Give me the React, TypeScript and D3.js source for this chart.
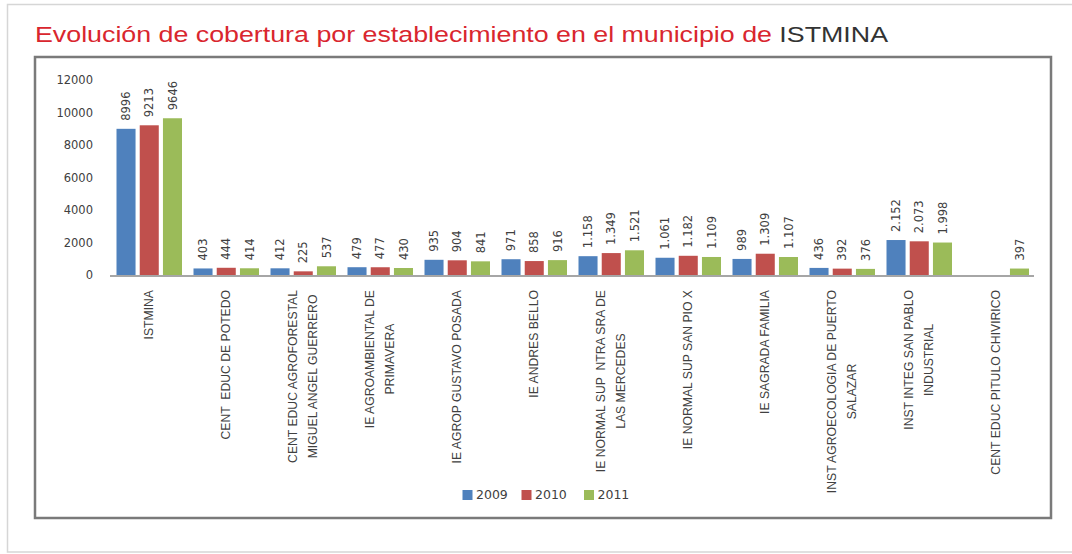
import React, { useEffect, useRef } from "react";
import * as d3 from "d3";

const categories: string[][] = [
  ["ISTMINA"],
  ["CENT  EDUC DE POTEDO"],
  ["CENT EDUC AGROFORESTAL", "MIGUEL ANGEL GUERRERO"],
  ["IE AGROAMBIENTAL DE", "PRIMAVERA"],
  ["IE AGROP GUSTAVO POSADA"],
  ["IE ANDRES BELLO"],
  ["IE NORMAL SUP  NTRA SRA DE", "LAS MERCEDES"],
  ["IE NORMAL SUP SAN PIO X"],
  ["IE SAGRADA FAMILIA"],
  ["INST AGROECOLOGIA DE PUERTO", "SALAZAR"],
  ["INST INTEG SAN PABLO", "INDUSTRIAL"],
  ["CENT EDUC PITULO CHIVIRICO"],
];

const series = ["2009", "2010", "2011"];
const colors = ["#4f81bd", "#c0504d", "#9bbb59"];

const values2009: (number | null)[] = [8996, 403, 412, 479, 935, 971, 1158, 1061, 989, 436, 2152, null];
const values2010: (number | null)[] = [9213, 444, 225, 477, 904, 858, 1349, 1182, 1309, 392, 2073, null];
const values2011: (number | null)[] = [9646, 414, 537, 430, 841, 916, 1521, 1109, 1107, 376, 1998, 397];

const labels2009 = ["8996", "403", "412", "479", "935", "971", "1.158", "1.061", "989", "436", "2.152", ""];
const labels2010 = ["9213", "444", "225", "477", "904", "858", "1.349", "1.182", "1.309", "392", "2.073", ""];
const labels2011 = ["9646", "414", "537", "430", "841", "916", "1.521", "1.109", "1.107", "376", "1.998", "397"];

const yTicks = [0, 2000, 4000, 6000, 8000, 10000, 12000];

const W = 1072;
const H = 554;

export default function App() {
  const ref = useRef<SVGSVGElement>(null);

  useEffect(() => {
    const svg = d3.select(ref.current);
    svg.selectAll("*").remove();

    // outer frame
    svg.append("rect").attr("x", 7.5).attr("y", 4.5).attr("width", 1080).attr("height", 547.5)
      .attr("fill", "none").attr("stroke", "#d6d6d6").attr("stroke-width", 1.5);

    // title
    const title = svg.append("text").attr("x", 35).attr("y", 42)
      .attr("font-family", "Liberation Sans, Arial, sans-serif").attr("font-size", 21.5)
      .attr("textLength", 853).attr("lengthAdjust", "spacingAndGlyphs");
    title.append("tspan").attr("fill", "#d9262e").text("Evolución de cobertura por establecimiento en el municipio de ");
    title.append("tspan").attr("fill", "#333333").text("ISTMINA");

    // inner box
    svg.append("rect").attr("x", 35).attr("y", 57).attr("width", 1016).attr("height", 461)
      .attr("fill", "none").attr("stroke", "#7a7a7a").attr("stroke-width", 2.5);

    const x0 = d3.scaleBand<number>().domain(d3.range(categories.length)).range([110, 1034]).padding(0);
    const x1 = d3.scaleBand<number>().domain([0, 1, 2]).range([6.5, 72]).paddingInner(0.18).paddingOuter(0);
    const y = d3.scaleLinear().domain([0, 12000]).range([275, 80]);

    // y tick labels
    svg.append("g").selectAll("text").data(yTicks).join("text")
      .attr("x", 93).attr("y", (d) => y(d)).attr("dy", "0.35em")
      .attr("text-anchor", "end").attr("font-family", "DejaVu Sans, sans-serif")
      .attr("font-size", 11.5).attr("fill", "#404040").text((d) => String(d));

    const all = [values2009, values2010, values2011];
    const labs = [labels2009, labels2010, labels2011];

    const g = svg.append("g");
    all.forEach((vals, si) => {
      vals.forEach((v, ci) => {
        if (v == null) return;
        const bx = x0(ci)! + x1(si)!;
        g.append("rect").attr("x", bx).attr("y", y(v)).attr("width", x1.bandwidth())
          .attr("height", y(0) - y(v)).attr("fill", colors[si]);
        const cx = bx + x1.bandwidth() / 2;
        const ty = y(v) - 8;
        g.append("text").attr("transform", `translate(${cx},${ty}) rotate(-90)`)
          .attr("dy", "0.35em").attr("font-family", "DejaVu Sans, sans-serif")
          .attr("font-size", 11.5).attr("fill", "#404040").text(labs[si][ci]);
      });
    });

    // axis line
    svg.append("line").attr("x1", 110).attr("x2", 1034).attr("y1", 276).attr("y2", 276)
      .attr("stroke", "#a6a6a6").attr("stroke-width", 2);

    // category labels
    categories.forEach((lines, ci) => {
      const cx = x0(ci)! + x0.bandwidth() / 2;
      const grp = svg.append("g");
      const texts = lines.map((ln, li) => {
        const lx = cx + (li - (lines.length - 1) / 2) * 20;
        return grp.append("text").attr("data-x", lx)
          .attr("text-anchor", "middle").attr("dy", "0.35em")
          .style("white-space", "pre")
          .attr("font-family", "Liberation Sans, Arial, sans-serif").attr("font-size", 12.2)
          .attr("fill", "#404040").text(ln);
      });
      const maxLen = d3.max(texts, (t) => (t.node() as SVGTextElement).getComputedTextLength()) || 0;
      const cy = 290 + maxLen / 2;
      texts.forEach((t) => {
        t.attr("transform", `translate(${t.attr("data-x")},${cy}) rotate(-90)`);
      });
    });

    // legend
    const legendX = [462.5, 521.5, 584];
    series.forEach((s, i) => {
      svg.append("rect").attr("x", legendX[i]).attr("y", 490).attr("width", 10).attr("height", 10)
        .attr("fill", colors[i]);
      svg.append("text").attr("x", legendX[i] + 13.5).attr("y", 495).attr("dy", "0.35em")
        .attr("font-family", "DejaVu Sans, sans-serif").attr("font-size", 12.5)
        .attr("fill", "#404040").text(s);
    });
  }, []);

  return (
    <svg ref={ref} width={W} height={H} style={{ position: "absolute", left: 0, top: 0, background: "#fff" }} />
  );
}
